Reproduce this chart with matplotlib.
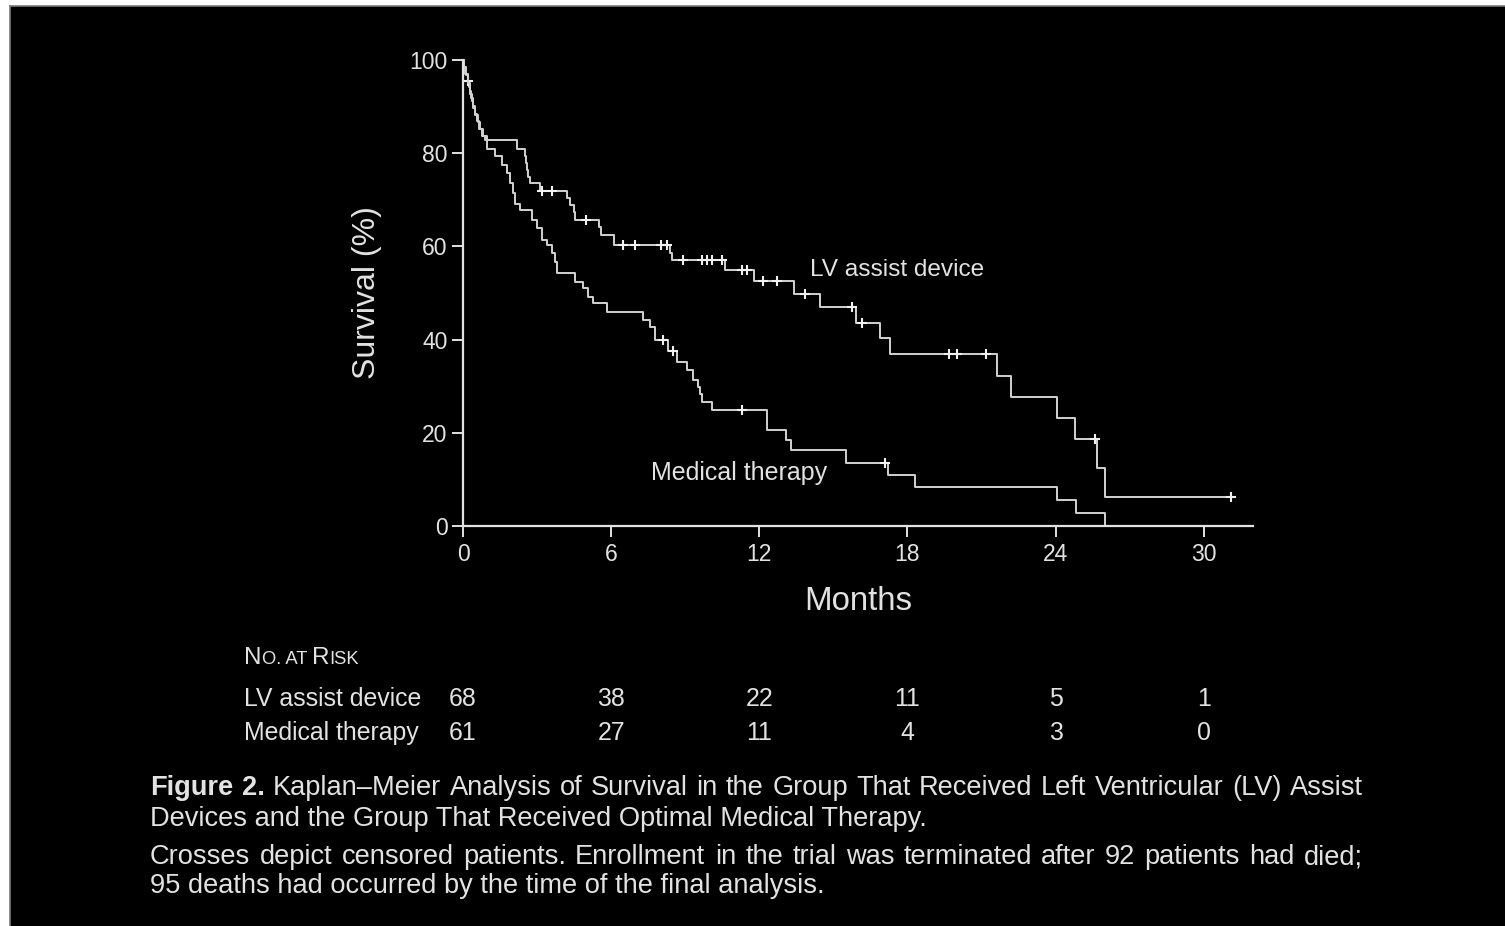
import matplotlib
matplotlib.use("Agg")
import matplotlib.pyplot as plt
import matplotlib.transforms as mtransforms
from matplotlib.patches import Rectangle
from matplotlib.lines import Line2D
import numpy as np

plt.rcParams['font.family'] = ['Liberation Sans', 'DejaVu Sans']

# ---- data -------------------------------------------------------------
# Kaplan-Meier steps: month at which survival changes, survival (%) from then on
lvad_t = [0, 0.05, 0.1, 0.2, 0.25, 0.3, 0.36, 0.42, 0.5, 0.6, 0.7, 0.8, 0.88,
          2.2, 2.5, 2.55, 2.6, 2.65, 2.7, 3.1, 4.2, 4.35, 4.5, 4.55, 5.5, 5.6,
          6.1, 8.4, 8.45, 10.6, 11.8, 13.4, 14.45, 15.9, 16.9, 17.3, 21.65,
          22.2, 24.05, 24.8, 25.7, 26.0]
lvad_s = [100, 98.5, 97.0, 95.6, 94.1, 92.6, 91.1, 89.6, 88.1, 86.6, 85.2, 83.7,
          82.8, 80.9, 79.4, 77.9, 76.4, 75.0, 73.5, 71.9, 70.4, 68.8, 67.3, 65.7,
          64.1, 62.4, 60.3, 58.6, 57.1, 54.9, 52.5, 49.7, 47.0, 43.5, 40.3, 36.9,
          32.2, 27.7, 23.2, 18.6, 12.4, 6.2]
lvad_end = 31.1
lvad_censor = [0.2, 3.2, 3.6, 5.0, 6.5, 6.95, 8.0, 8.25, 8.9, 9.7, 9.9, 10.1,
               10.5, 11.3, 11.5, 12.15, 12.7, 13.85, 15.75, 16.15, 19.7, 20.0,
               21.2, 25.6, 31.1]

mt_t = [0, 0.05, 0.12, 0.2, 0.27, 0.33, 0.4, 0.48, 0.56, 0.65, 0.75, 0.96, 1.3,
        1.57, 1.77, 1.9, 2.04, 2.1, 2.3, 2.78, 2.98, 3.19, 3.39, 3.6, 3.72, 3.8,
        4.53, 4.87, 5.07, 5.28, 5.82, 7.3, 7.57, 7.77, 8.3, 8.66, 9.07, 9.3, 9.5,
        9.6, 9.7, 10.1, 12.3, 13.1, 13.3, 15.5, 17.2, 18.3, 24.05, 24.85, 26.0]
mt_s = [100, 98.4, 96.7, 95.1, 93.4, 91.8, 90.2, 88.5, 86.9, 85.2, 83.6, 81.0,
        79.3, 77.5, 75.7, 73.5, 71.4, 69.2, 67.8, 65.7, 63.9, 61.4, 60.3, 58.5,
        56.7, 54.2, 52.4, 51.0, 49.2, 47.8, 46.0, 44.2, 42.8, 40.0, 37.6, 35.2,
        33.5, 31.3, 29.8, 28.4, 26.6, 24.9, 20.6, 18.4, 16.3, 13.5, 10.9, 8.4,
        5.6, 2.8, 0]
mt_end = 26.0
mt_censor = [8.1, 8.5, 11.3, 17.1]

month_ticks = [0, 6, 12, 18, 24, 30]
surv_ticks = [0, 20, 40, 60, 80, 100]
risk_groups = ["LV assist device", "Medical therapy"]
risk_lvad = [68, 38, 22, 11, 5, 1]
risk_mt = [61, 27, 11, 4, 3, 0]

caption_l1 = [("Figure", "bold"), ("2.", "bold")] + [
    (w, "normal") for w in
    "Kaplan\u2013Meier Analysis of Survival in the Group That Received Left Ventricular (LV) Assist".split()]
caption_l2 = "Devices and the Group That Received Optimal Medical Therapy."
caption_l3 = "Crosses depict censored patients. Enrollment in the trial was terminated after 92 patients had died;"
caption_l4 = "95 deaths had occurred by the time of the final analysis."

# ---- figure -----------------------------------------------------------
W, H = 1505, 926
FG = '#e2e2e2'
CURVE = '#d2d2d2'

fig = plt.figure(figsize=(W / 100, H / 100), dpi=100, facecolor='white')
fig.add_artist(Rectangle((10 / W, 0), 1, (H - 6) / H, transform=fig.transFigure,
                         facecolor='black', edgecolor='none', zorder=-10))
fig.add_artist(Line2D([9.5 / W, 9.5 / W], [0, (H - 5.5) / H], transform=fig.transFigure,
                      color='#7a7a7a', lw=1.2, zorder=-9))
fig.add_artist(Line2D([9.5 / W, 1], [(H - 5.5) / H, (H - 5.5) / H], transform=fig.transFigure,
                      color='#7a7a7a', lw=1.2, zorder=-9))

ax = fig.add_axes([463 / W, 1 - 526 / H, (1253 - 463) / W, (526 - 60) / H])
ax.set_facecolor('none')
ax.set_xlim(0, 32)
ax.set_ylim(0, 100)
for side in ('top', 'right'):
    ax.spines[side].set_visible(False)
for side in ('left', 'bottom'):
    ax.spines[side].set_color(FG)
    ax.spines[side].set_linewidth(1.6)
ax.set_xticks(month_ticks)
ax.set_yticks(surv_ticks)
ax.tick_params(axis='both', direction='out', length=8, width=1.4, color=FG,
               labelcolor=FG, labelsize=16.5)
ax.tick_params(axis='y', pad=3)
ax.tick_params(axis='x', pad=4)
ax.set_xlabel("Months", fontsize=23.8, color=FG, labelpad=15)
ax.set_ylabel("Survival (%)", fontsize=23, color=FG, labelpad=20)


def km_curve(t, s, end, censor):
    tt = list(t) + [end]
    ss = list(s) + [s[-1]]
    ax.step(tt, ss, where='post', color=CURVE, lw=1.4, clip_on=False)
    idx = np.searchsorted(np.asarray(t), np.asarray(censor), side='right') - 1
    cy = np.asarray(s)[idx]
    ax.plot(censor, cy, ls='none', marker='+', ms=7, mew=1.5, color='#f0f0f0',
            clip_on=False)


km_curve(lvad_t, lvad_s, lvad_end, lvad_censor)
km_curve(mt_t, mt_s, mt_end, mt_censor)

ax.text(14.05, 54.9, "LV assist device", fontsize=17.6, color=FG, ha='left', va='center')
ax.text(7.6, 11.4, "Medical therapy", fontsize=18.0, color=FG, ha='left', va='center')

# ---- number at risk table ----------------------------------------------
fig.canvas.draw()
renderer = fig.canvas.get_renderer()


def draw_runs(x_px, y_px, runs):
    """Draw consecutive text pieces (text, size) left to right on one baseline."""
    x = x_px
    for txt, size in runs:
        t = fig.text(x / W, 1 - y_px / H, txt, fontsize=size, color=FG,
                     ha='left', va='baseline')
        x += t.get_window_extent(renderer).width


draw_runs(244, 664, [("N", 17.5), ("O. AT ", 13.2), ("R", 17.5), ("ISK", 13.2)])

blend = mtransforms.blended_transform_factory(ax.transData, fig.transFigure)
for row_y, name, counts in ((697, risk_groups[0], risk_lvad),
                            (731, risk_groups[1], risk_mt)):
    fig.text(244 / W, 1 - (row_y + 9) / H, name, fontsize=17.9, color=FG,
             ha='left', va='baseline')
    for m, n in zip(month_ticks, counts):
        ax.text(m, 1 - (row_y + 9) / H, str(n), transform=blend, fontsize=17.9,
                color=FG, ha='center', va='baseline')

# ---- caption -----------------------------------------------------------
CAP_FS = 19.6
X0, X1 = 150, 1363


def justified(words, y_px):
    texts = [fig.text(0, 1 - y_px / H, w, fontsize=CAP_FS, weight=wt, color=FG,
                      ha='left', va='baseline') for w, wt in words]
    widths = [t.get_window_extent(renderer).width for t in texts]
    gap = (X1 - X0 - sum(widths)) / (len(texts) - 1)
    x = X0
    for t, w in zip(texts, widths):
        t.set_x(x / W)
        x += w + gap


justified(caption_l1, 795)
fig.text(X0 / W, 1 - 826 / H, caption_l2, fontsize=CAP_FS, color=FG, ha='left', va='baseline')
justified([(w, "normal") for w in caption_l3.split()], 864)
fig.text(X0 / W, 1 - 893 / H, caption_l4, fontsize=CAP_FS, color=FG, ha='left', va='baseline')

fig.savefig("out.png", dpi=100, facecolor=fig.get_facecolor())
